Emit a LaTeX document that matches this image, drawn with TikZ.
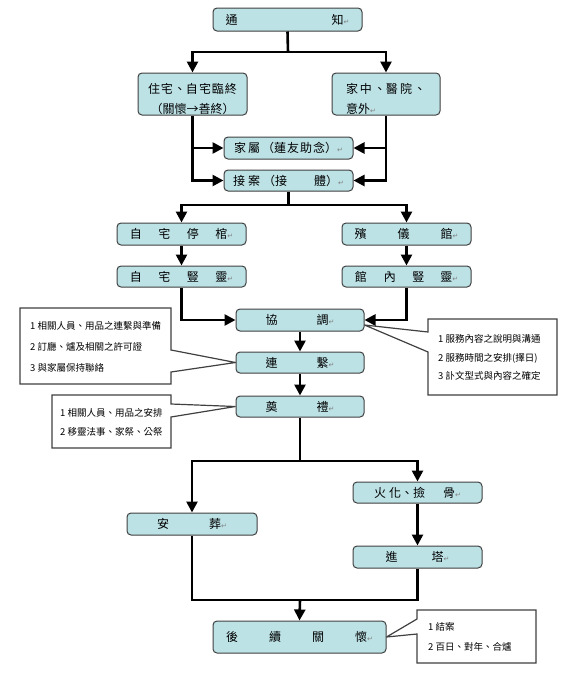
\documentclass[tikz,border=0pt]{standalone}
\usepackage{fontspec}
\setmainfont{Noto Sans CJK TC}
\newfontfamily\dejavu{DejaVu Sans}
\usetikzlibrary{arrows.meta,backgrounds}
\definecolor{boxfill}{RGB}{189,226,230}
\definecolor{boxdraw}{RGB}{64,64,64}
\newcommand\gap[1]{\hspace*{#1pt}}
\newcommand\retmark{{\dejavu\fontsize{7}{7}\selectfont\color{gray}↵}}
\begin{document}
\begin{tikzpicture}[x=1pt,y=-1pt,
  box/.style={draw=boxdraw, line width=1pt, fill=boxfill, rounded corners=4pt,
    inner sep=0pt, font=\fontsize{12}{20}\selectfont},
  conn/.style={line width=2.6pt, black},
  arr/.style={conn, -{Triangle[length=11pt,width=11pt]}},
  callout/.style={draw=boxdraw, line width=1.2pt, fill=white, line join=miter},
  ctext/.style={anchor=west, inner sep=0pt, align=left}]
\useasboundingbox (0,0) rectangle (569,675);

% main boxes
\node[box, minimum width=149pt, minimum height=23pt] (tongzhi) at (287.5,19.5) {通\gap{94}知\retmark};
\node[box, minimum width=109pt, minimum height=42pt, align=center] (zhuzhai) at (192.5,94) {\rule{0pt}{20pt}住\gap{1}宅\gap{1}、自\gap{1}宅\gap{1}臨\gap{1}終\\（關懷→善終）};
\node[box, minimum width=108pt, minimum height=42pt, align=left] (jiazhong) at (386,94) {\rule{0pt}{20pt}家\gap{2}中\gap{2}、醫\gap{2}院\gap{2}、\\意外\retmark};
\node[box, minimum width=129pt, minimum height=22pt] (jiashu) at (288.5,148) {家\gap{2}屬\gap{2}（蓮\gap{1}友\gap{1}助\gap{1}念）\retmark};
\node[box, minimum width=129pt, minimum height=21pt] (jiean) at (288.5,180.5) {接\gap{3}案\gap{3}（接\gap{27}體）\retmark};
\node[box, minimum width=129pt, minimum height=22pt] (zizhai) at (181.5,234) {自\gap{16.5}宅\gap{16.5}停\gap{16.5}棺\retmark};
\node[box, minimum width=129pt, minimum height=22pt] (binyi) at (406.5,234) {殯\gap{31}儀\gap{31}館\retmark};
\node[box, minimum width=129pt, minimum height=21pt] (zishu) at (181.5,276.5) {自\gap{16.5}宅\gap{16.5}豎\gap{16.5}靈\retmark};
\node[box, minimum width=129pt, minimum height=21pt] (guannei) at (406.5,276.5) {館\gap{17}內\gap{16.5}豎\gap{16}靈\retmark};
\node[box, minimum width=128pt, minimum height=22pt] (xietiao) at (300,320) {協\gap{39}調\retmark};
\node[box, minimum width=128pt, minimum height=21pt] (lianxi) at (300,362.5) {連\gap{39}繫\retmark};
\node[box, minimum width=128pt, minimum height=21pt] (dianli) at (300,406.5) {奠\gap{39}禮\retmark};
\node[box, minimum width=129pt, minimum height=21pt] (huohua) at (417.5,492.5) {火\gap{3}化、撿\gap{18}骨\retmark};
\node[box, minimum width=130pt, minimum height=22pt] (anzang) at (192,524) {安\gap{40}葬\retmark};
\node[box, minimum width=129pt, minimum height=22pt] (jinta) at (417.5,557) {進\gap{34}塔\retmark};
\node[box, minimum width=173pt, minimum height=32pt] (houxu) at (299.5,637) {後\gap{31}續\gap{31}關\gap{31}懷\retmark};

% connectors
\coordinate (j1) at (288,52);
\draw[conn] (tongzhi.south) -- (j1);
\draw[arr] (j1) -| (zhuzhai.north);
\draw[arr] (j1) -| (jiazhong.north);
\draw[arr] (zhuzhai.south) |- (jiashu.west);
\draw[arr] (zhuzhai.south) |- (jiean.west);
\draw[arr] (jiazhong.south) |- (jiashu.east);
\draw[arr] (jiazhong.south) |- (jiean.east);
\coordinate (j2) at (288.5,205);
\draw[conn] (jiean.south) -- (j2);
\draw[arr] (j2) -| (zizhai.north);
\draw[arr] (j2) -| (binyi.north);
\draw[arr] (zizhai) -- (zishu);
\draw[arr] (binyi) -- (guannei);
\draw[arr] (zishu.south) |- (xietiao.west);
\draw[arr] (guannei.south) |- (xietiao.east);
\draw[arr] (xietiao) -- (lianxi);
\draw[arr] (lianxi) -- (dianli);
\coordinate (j3) at (300,461);
\draw[conn] (dianli.south) -- (j3);
\draw[arr] (j3) -| (anzang.north);
\draw[arr] (j3) -| (huohua.north);
\draw[arr] (huohua) -- (jinta);
\coordinate (j4) at (300,600);
\draw[conn] (anzang.south) |- (j4) -| (jinta.south);
\draw[arr] (j4) -- (houxu.north);

% callouts
\begin{scope}[on background layer]
\draw[callout] (20,308) -- (171,308) -- (171,350) -- (lianxi.west) -- (171,372) -- (171,384) -- (20,384) -- cycle;
\draw[callout] (52,395) -- (171,395) -- (171,404) -- (dianli.west) -- (171,417) -- (171,448) -- (52,448) -- cycle;
\draw[callout] (428,319) -- (557,319) -- (557,395) -- (428,395) -- (428,352) -- ([yshift=-5pt]xietiao.east) -- (428,332) -- cycle;
\draw[callout] (417,610) -- (536,610) -- (536,663) -- (417,663) -- (417,634) -- (houxu.east) -- (417,619) -- cycle;
\end{scope}
\node[ctext, font=\fontsize{9.5}{21}\selectfont] (t1) at (30,347) {1 相關人員、用品之連繫與準備\\2 訂廳、爐及相關之許可證\\3 與家屬保持聯絡};
\node[ctext, font=\fontsize{9.5}{19}\selectfont] (t2) at (60,422.5) {1 相關人員、用品之安排\\2 移靈法事、家祭、公祭};
\node[ctext, font=\fontsize{9.5}{18.5}\selectfont] (t3) at (438,357.5) {1 服務內容之說明與溝通\\2 服務時間之安排(擇日)\\3 訃文型式與內容之確定};
\node[ctext, font=\fontsize{9.5}{20}\selectfont] (t4) at (428,637) {1 結案\\2 百日、對年、合爐};
\end{tikzpicture}
\end{document}
